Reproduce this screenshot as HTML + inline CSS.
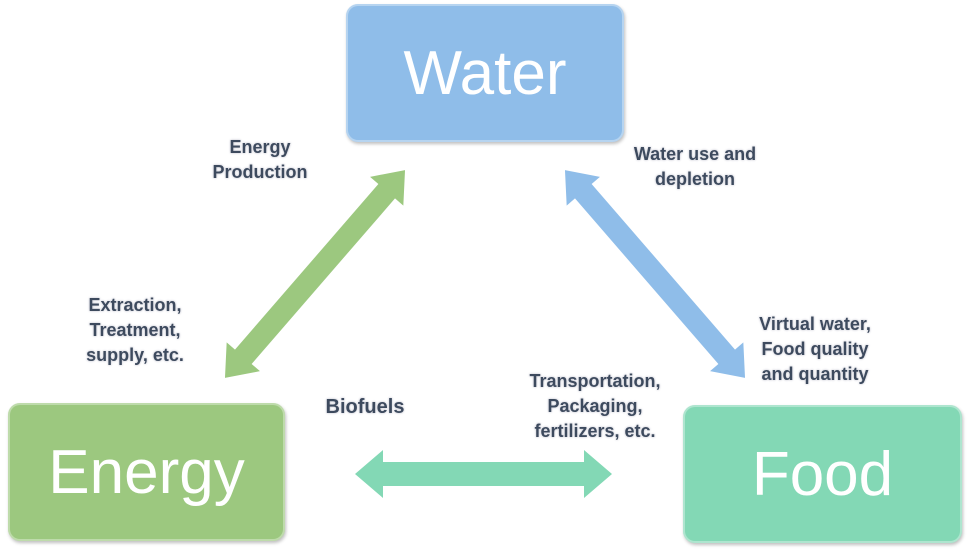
<!DOCTYPE html>
<html><head><meta charset="utf-8"><style>
html,body{margin:0;padding:0;background:#fff;}
body{width:968px;height:550px;position:relative;overflow:hidden;font-family:"Liberation Sans",sans-serif;}
.box{position:absolute;border-radius:12px;color:#fff;display:flex;align-items:center;justify-content:center;font-size:62px;box-shadow:inset 0 0 0 2px rgba(255,255,255,0.35),1px 2px 3px rgba(0,0,0,0.25);}
.lbl{position:absolute;font-weight:bold;font-size:18px;line-height:25px;color:#3d4a5e;text-align:center;text-shadow:0 0 1px #fff,0 0 2px #aab;}
</style></head><body>
<div class="box" style="left:346px;top:4px;width:278px;height:138px;background:#8fbde9;">Water</div>
<div class="box" style="left:8px;top:403px;width:277px;height:138px;background:#9cc87f;">Energy</div>
<div class="box" style="left:683px;top:405px;width:279px;height:138px;background:#83d8b5;">Food</div>
<svg width="968" height="550" style="position:absolute;left:0;top:0">
<g transform="translate(315,274) rotate(-49.1)" fill="#9cc87f">
<polygon points="-137.5,0 -109.5,-22 -109.5,-11 109.5,-11 109.5,-22 137.5,0 109.5,22 109.5,11 -109.5,11 -109.5,22"/></g>
<g transform="translate(655,274) rotate(49.1)" fill="#8fbde9">
<polygon points="-137.5,0 -109.5,-22 -109.5,-11 109.5,-11 109.5,-22 137.5,0 109.5,22 109.5,11 -109.5,11 -109.5,22"/></g>
<g transform="translate(483.5,474)" fill="#83d8b5">
<polygon points="-128.5,0 -100.5,-24 -100.5,-12 100.5,-12 100.5,-24 128.5,0 100.5,24 100.5,12 -100.5,12 -100.5,24"/></g>
</svg>
<div class="lbl" style="left:185px;top:135px;width:150px;">Energy<br>Production</div>
<div class="lbl" style="left:615px;top:142px;width:160px;">Water use and<br>depletion</div>
<div class="lbl" style="left:65px;top:293px;width:140px;">Extraction,<br>Treatment,<br>supply, etc.</div>
<div class="lbl" style="left:730px;top:312px;width:170px;">Virtual water,<br>Food quality<br>and quantity</div>
<div class="lbl" style="left:295px;top:395px;width:140px;font-size:20px;">Biofuels</div>
<div class="lbl" style="left:505px;top:369px;width:180px;">Transportation,<br>Packaging,<br>fertilizers, etc.</div>
</body></html>
